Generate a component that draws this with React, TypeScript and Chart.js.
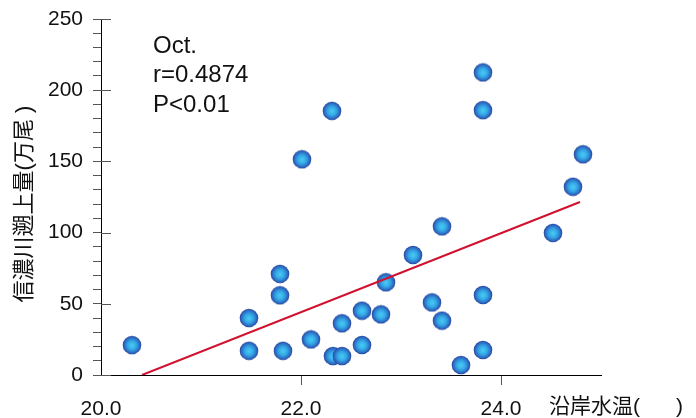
import React, { useEffect, useRef } from "react";
import { Chart, registerables } from "chart.js";

Chart.register(...registerables);

// Observed points: coastal water temperature (°C) vs. upstream run (10k fish)
const tempX = [
  20.31, 21.48, 21.48, 21.79, 21.79, 21.82, 22.01, 22.10, 22.31, 22.32,
  22.41, 22.41, 22.61, 22.61, 22.80, 22.85, 23.12, 23.31, 23.41, 23.41,
  23.60, 23.82, 23.82, 23.82, 23.82, 24.52, 24.72, 24.82,
];
const runY = [
  21, 40, 17, 71, 56, 17, 151.5, 25, 185.5, 13.3,
  36.3, 13.3, 45.2, 21.1, 42.6, 65.1, 84.3, 51, 104.4, 38.2,
  7, 212.5, 186, 56.2, 17.6, 99.8, 132.2, 155,
];
// Regression line end points
const fitX = [20.41, 24.79];
const fitY = [0, 121.5];
// Axis ticks
const xTickValues = [20, 22, 24];
const yMajorTicks = [0, 50, 100, 150, 200, 250];
const annotationLines = ["Oct.", "r=0.4874", "P<0.01"];
const yTitle = "信濃川遡上量(万尾 )";
const xTitleLeft = "沿岸水温(";
const xTitleRight = ")";

const FONT = '"Liberation Sans", Arial, "Noto Sans CJK JP", sans-serif';

function makeBall(): HTMLCanvasElement {
  const c = document.createElement("canvas");
  c.width = 20;
  c.height = 20;
  const g = c.getContext("2d")!;
  const grad = g.createRadialGradient(10, 10.5, 0, 10, 10, 9.5);
  grad.addColorStop(0, "#48cdf4");
  grad.addColorStop(0.45, "#35a8e6");
  grad.addColorStop(0.8, "#2b6cc4");
  grad.addColorStop(1, "#2c3f93");
  g.fillStyle = grad;
  g.beginPath();
  g.arc(10, 10, 9.3, 0, Math.PI * 2);
  g.fill();
  return c;
}

export default function App() {
  const ref = useRef<HTMLCanvasElement>(null);
  useEffect(() => {
    const ball = makeBall();
    const overlay = {
      id: "overlay",
      afterDraw(chart: any) {
        const ctx = chart.ctx;
        const ys = chart.scales.y;
        const left = chart.chartArea.left;
        ctx.save();
        ctx.strokeStyle = "#555";
        ctx.lineWidth = 1;
        yMajorTicks.forEach((v) => {
          const py = Math.round(ys.getPixelForValue(v)) + 0.5;
          ctx.beginPath();
          ctx.moveTo(left, py);
          ctx.lineTo(left + 10, py);
          ctx.stroke();
        });
        ctx.fillStyle = "#111";
        ctx.font = `24px ${FONT}`;
        ctx.textAlign = "left";
        ctx.textBaseline = "alphabetic";
        annotationLines.forEach((t, i) => ctx.fillText(t, 153, 53 + i * 29.3));
        ctx.font = `21px ${FONT}`;
        ctx.fillText(xTitleLeft, 549, 413);
        ctx.fillText(xTitleRight, 676, 413);
        ctx.font = `22px ${FONT}`;
        ctx.translate(25, 204);
        ctx.rotate(-Math.PI / 2);
        ctx.textAlign = "center";
        ctx.textBaseline = "middle";
        ctx.fillText(yTitle, 0, 0);
        ctx.restore();
      },
    };
    const chart = new Chart(ref.current!, {
      type: "scatter",
      data: {
        datasets: [
          {
            type: "line",
            data: fitX.map((x, i) => ({ x, y: fitY[i] })),
            borderColor: "#d2102e",
            borderWidth: 2,
            pointRadius: 0,
            fill: false,
            order: 0,
          } as any,
          {
            data: tempX.map((x, i) => ({ x, y: runY[i] })),
            pointStyle: ball,
            pointRadius: 9,
            order: 1,
          },
        ],
      },
      options: {
        animation: false,
        responsive: false,
        layout: { padding: { left: 0, right: 95, top: 19, bottom: 0 } },
        plugins: { legend: { display: false }, tooltip: { enabled: false } },
        scales: {
          x: {
            type: "linear",
            min: 20,
            max: 25,
            afterBuildTicks: (s: any) => {
              s.ticks = xTickValues.map((v) => ({ value: v }));
            },
            afterFit: (s: any) => {
              s.height = 43;
              s.paddingLeft = 0;
              s.paddingRight = 0;
            },
            ticks: {
              callback: (v: any) => Number(v).toFixed(1),
              font: { size: 21, family: FONT },
              color: "#111",
              padding: 12,
              autoSkip: false,
              maxRotation: 0,
            },
            grid: {
              drawOnChartArea: false,
              drawTicks: true,
              tickLength: 10,
              color: (c: any) => (c.tick && c.tick.value === 20 ? "rgba(0,0,0,0)" : "#555"),
            },
            border: { color: "#000", width: 1 },
          },
          y: {
            type: "linear",
            min: 0,
            max: 250,
            afterFit: (s: any) => {
              s.width = 101;
              s.paddingTop = 0;
              s.paddingBottom = 0;
            },
            ticks: {
              stepSize: 10,
              autoSkip: false,
              callback: (v: any) => (Number(v) % 50 === 0 ? String(v) : ""),
              font: { size: 21, family: FONT },
              color: "#111",
              padding: 10,
            },
            grid: {
              drawOnChartArea: false,
              drawTicks: true,
              tickLength: 8,
              color: "#555",
            },
            border: { color: "#000", width: 1 },
          },
        },
      },
      plugins: [overlay],
    });
    return () => chart.destroy();
  }, []);
  return (
    <div style={{ position: "fixed", left: 0, top: 0, width: 696, height: 418, background: "#fff" }}>
      <canvas ref={ref} width={696} height={418} style={{ width: 696, height: 418 }} />
    </div>
  );
}
